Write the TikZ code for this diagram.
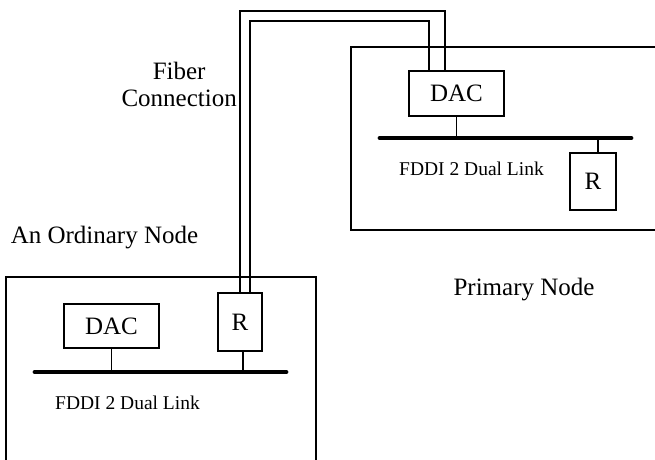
\documentclass[tikz,border=0pt]{standalone}
\usepackage{fontspec}
\setmainfont{Liberation Serif}
\begin{document}
\begin{tikzpicture}[x=1pt,y=-1pt,
  frame/.style={draw,line width=1.4pt},
  unit/.style={draw,line width=1.6pt,inner sep=0pt,font=\fontsize{25}{28}\selectfont},
  bus/.style={line width=4.8pt,line cap=round},
  wire/.style={line width=1.5pt},
  lbl/.style={inner sep=0pt,font=\fontsize{25}{27}\selectfont},
  small/.style={inner sep=0pt,font=\fontsize{19.5}{22}\selectfont}]
\useasboundingbox (0,0) rectangle (655,459);
\clip (0,0) rectangle (655,459);
% frames
\draw[frame] (6,470) -- (6,277) -- (316,277) -- (316,470);
\draw[frame] (665,47) -- (351,47) -- (351,230) -- (665,230);
% primary node units
\node[unit,minimum width=95pt,minimum height=45pt] (Dp) at (456.5,93.5) {DAC};
\node[unit,minimum width=46pt,minimum height=57pt] (Rp) at (593,181.5) {R};
\coordinate (bpl) at (380,138);
\coordinate (bpr) at (631,138);
\draw[bus] (bpl) -- (bpr);
\draw[wire] (Dp.south) -- (Dp.south |- bpl);
\draw[wire] (Rp.north -| 598,0) -- (bpl -| 598,0);
\node[small] (fp) at (471.5,169) {FDDI 2 Dual Link};
\node[lbl] (pn) at (524,290) {Primary Node};
% ordinary node units
\node[unit,minimum width=95pt,minimum height=44pt] (Do) at (111.5,326) {DAC};
\node[unit,minimum width=44pt,minimum height=58pt] (Ro) at (240,322) {R};
\coordinate (bol) at (35,372);
\coordinate (bor) at (286,372);
\draw[bus] (bol) -- (bor);
\draw[wire] (Do.south) -- (Do.south |- bol);
\draw[wire] (Ro.south -| 243,0) -- (bol -| 243,0);
\node[small] (fo) at (127.5,403) {FDDI 2 Dual Link};
\node[lbl] (on) at (104.5,238) {An Ordinary Node};
% fiber connection
\coordinate (o1) at (240,11);
\coordinate (o2) at (445,11);
\coordinate (i1) at (250,21);
\coordinate (i2) at (429,21);
\draw[wire] (Ro.north -| o1) -- (o1) -- (o2) -- (Dp.north -| o2);
\draw[wire] (Ro.north -| i1) -- (i1) -- (i2) -- (Dp.north -| i2);
\node[lbl,align=center,anchor=east] (fc) at (237,84) {Fiber\\Connection};
\end{tikzpicture}
\end{document}
